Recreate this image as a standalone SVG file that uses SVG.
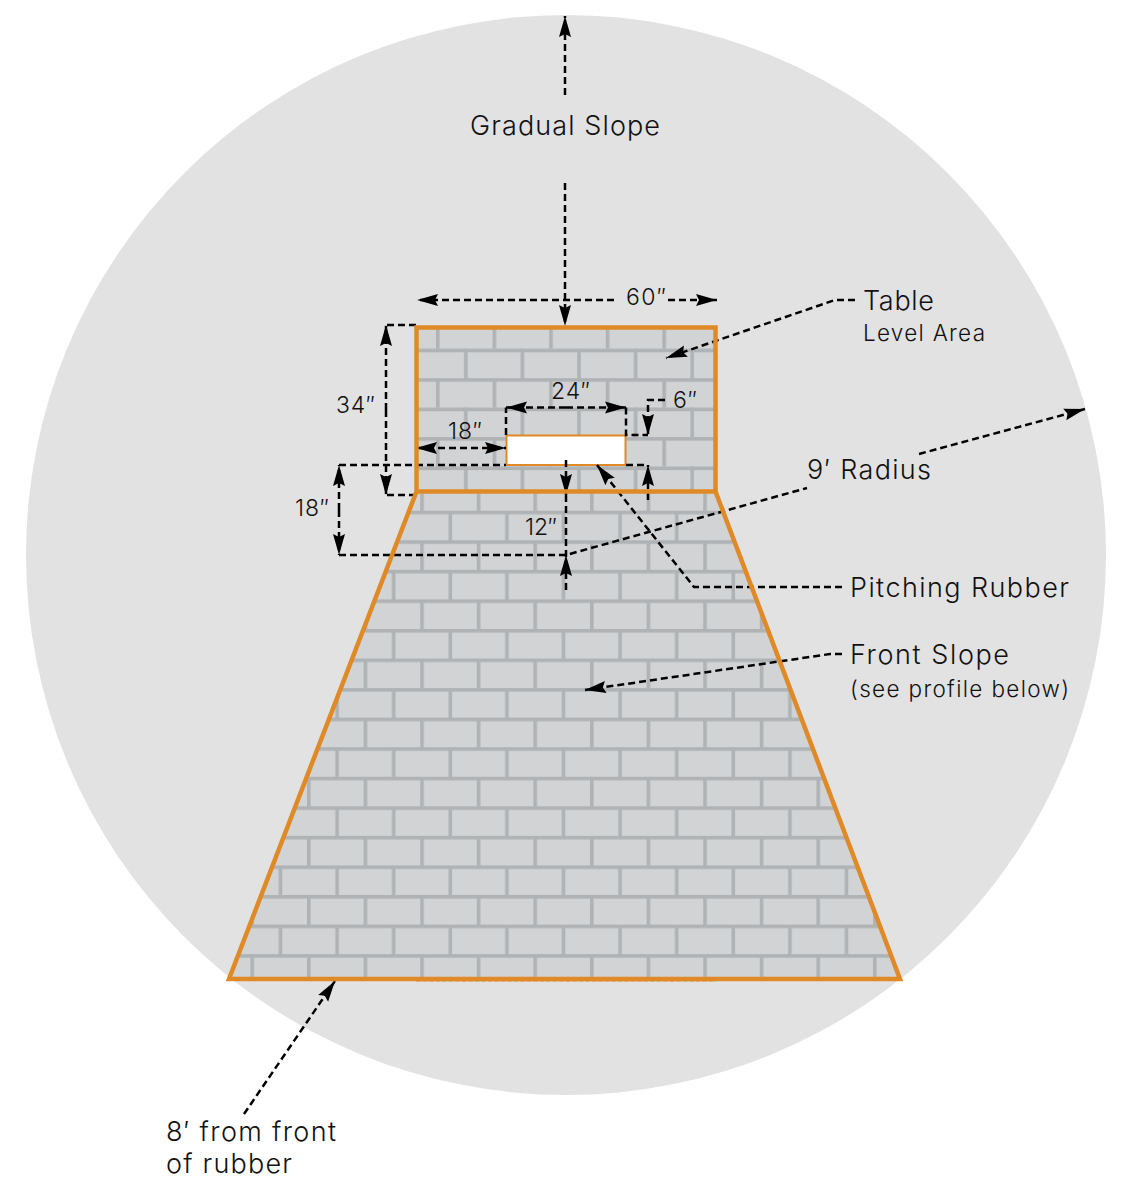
<svg xmlns="http://www.w3.org/2000/svg" width="1130" height="1194" viewBox="0 0 1130 1194">
<style>
.t{font-family:"Inter","Noto Sans","Liberation Sans",sans-serif;font-weight:350;fill:#111;font-size:27px}
.s{font-size:22.5px}
.d{font-size:23px}
.c{fill:none;stroke:#000;stroke-width:2.5;stroke-dasharray:7 4}
.a{marker-end:url(#ah)}
.b{marker-start:url(#as)}
.o{stroke:#df8a26;stroke-width:4.500;stroke-miterlimit:10}
</style>
<defs>
<marker id="ah" markerUnits="userSpaceOnUse" markerWidth="24" markerHeight="14" refX="21" refY="7" orient="auto"><path d="M0 1L21 7L0 13L3 7Z" fill="#000"/></marker>
<marker id="as" markerUnits="userSpaceOnUse" markerWidth="24" markerHeight="14" refX="0" refY="7" orient="auto"><path d="M21 1L0 7L21 13L18 7Z" fill="#000"/></marker>
<pattern id="lower" patternUnits="userSpaceOnUse" x="250.4" y="895" width="56.6" height="59.12">
<rect width="56.6" height="59.12" fill="#d1d3d4"/>
<rect y="0" width="56.6" height="3.600" fill="#b0b3b6"/><rect y="29.56" width="56.6" height="3.600" fill="#b0b3b6"/>
<rect x="0" y="0" width="3.600" height="29.56" fill="#b0b3b6"/><rect x="28.3" y="29.56" width="3.600" height="29.56" fill="#b0b3b6"/>
</pattern>
<pattern id="upper" patternUnits="userSpaceOnUse" x="436" y="319.25" width="56.6" height="58.9">
<rect width="56.6" height="58.9" fill="#d1d3d4"/>
<rect y="0" width="56.6" height="3.600" fill="#b0b3b6"/><rect y="29.45" width="56.6" height="3.600" fill="#b0b3b6"/>
<rect x="0" y="0" width="3.600" height="29.45" fill="#b0b3b6"/><rect x="28" y="29.45" width="3.600" height="29.45" fill="#b0b3b6"/>
</pattern>
</defs>
<rect width="1130" height="1194" fill="#fff"/>
<circle id="mound" cx="566" cy="555" r="540" fill="#e2e2e3"/>
<g id="front-slope"><path d="M416.500 491.500H715.500L899 979H230Z" fill="url(#lower)"/></g>
<path d="M416 980.500H716" fill="none" stroke="#df8a26" stroke-width="2" stroke-dasharray="5 1.500"/>
<g id="table"><rect x="416.500" y="327.500" width="299" height="164" fill="url(#upper)"/></g>
<g id="rubber"><rect x="506.500" y="435.500" width="119" height="29.500" fill="#fff" stroke="#df8a26" stroke-width="2"/></g>
<g id="connectors">
<path class="c a" d="M565 95V16"/>
<path class="c a" d="M565 183V326"/>
<path class="c a" d="M614 300H417"/>
<path class="c a" d="M668 300H717"/>
<path class="c" d="M416 325H386"/>
<path class="c" d="M416 495H386"/>
<path class="c a" d="M386 410V325"/>
<path class="c a" d="M386 410V495"/>
<path class="c a b" d="M416 448H506"/>
<path class="c" d="M506 435V407.500"/>
<path class="c" d="M626 407.500V435H648"/>
<path class="c a" d="M566 407.500H506"/>
<path class="c a" d="M566 407.500H626"/>
<path class="c a" d="M665 400H648V435"/>
<path class="c" d="M339 465H506"/>
<path class="c" d="M626 465H648"/>
<path class="c a" d="M648 500V465"/>
<path class="c a" d="M339 510V465"/>
<path class="c a" d="M339 510V555"/>
<path class="c" d="M339 555H566L807 488"/>
<path class="c a" d="M919 454L1085 409"/>
<path class="c a" d="M566 460V495"/>
<path class="c" d="M566 495V555"/>
<path class="c a" d="M566 590V555"/>
<path class="c a" d="M855 300H835L666 358"/>
<path class="c a" d="M842 587H694L597 465"/>
<path class="c a" d="M842 654H830L585 690"/>
<path class="c a" d="M244 1114L335 981"/>
</g>
<path class="o" fill="none" d="M416.500 491.500L229 979H900L715.500 491.500"/>
<rect class="o" fill="none" x="416.500" y="327.500" width="299" height="164"/>
<g id="labels">
<text class="t" x="470" y="134.500" textLength="190">Gradual Slope</text>
<text class="t" x="863" y="310" textLength="71">Table</text>
<text class="t s" x="863" y="340.500" textLength="122">Level Area</text>
<text class="t" x="807" y="479" textLength="124">9′ Radius</text>
<text class="t" x="850" y="596.500" textLength="219">Pitching Rubber</text>
<text class="t" x="850" y="664" textLength="159">Front Slope</text>
<text class="t s" x="850" y="697" textLength="219">(see profile below)</text>
<text class="t" x="166" y="1140.500" textLength="170">8′ from front</text>
<text class="t" x="166" y="1173" textLength="126">of rubber</text>
<text class="t d" x="626" y="305" textLength="40">60″</text>
<text class="t d" x="336" y="413" textLength="39">34″</text>
<text class="t d" x="551" y="399" textLength="39">24″</text>
<text class="t d" x="448" y="439" textLength="34">18″</text>
<text class="t d" x="673" y="408" textLength="24">6″</text>
<text class="t d" x="295" y="516" textLength="34">18″</text>
<text class="t d" x="525" y="535" textLength="32">12″</text>
</g>
</svg>
